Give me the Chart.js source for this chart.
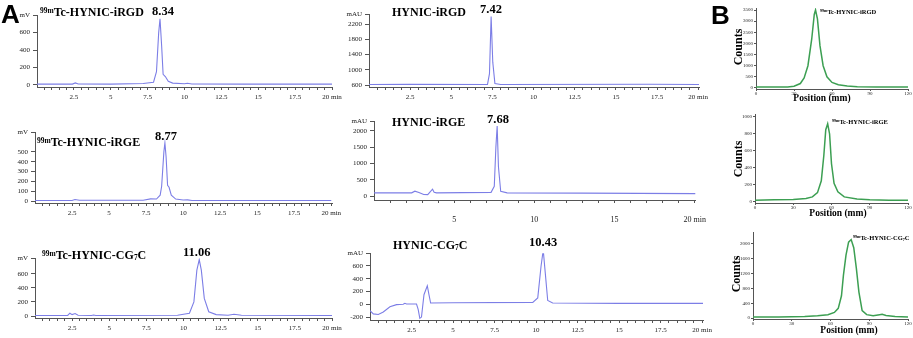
<!DOCTYPE html>
<html>
<head>
<meta charset="utf-8">
<script src="https://cdn.jsdelivr.net/npm/chart.js@4.4.1/dist/chart.umd.min.js"></script>
<style>
  body { margin: 0; background: #fff; }
  #fig { position: relative; width: 913px; height: 338px; overflow: hidden; font-family: 'Liberation Serif', 'Times New Roman', serif; }
  #fig canvas { position: absolute; }
  .lbl { position: absolute; white-space: nowrap; font-weight: bold; line-height: 1; color: #000; }
  .t { font-size: 12px; }
  .pk { font-size: 12.5px; }
  .sm { font-size: 6.5px; }
  .lbl sup { font-size: 0.62em; vertical-align: 0; position: relative; top: -0.45em; }
  .lbl sub { font-size: 0.62em; vertical-align: 0; position: relative; top: 0.15em; }
  .letter { position: absolute; font-family: 'Liberation Sans', Arial, sans-serif; font-weight: bold; font-size: 26px; line-height: 1; }
  .ytitle { position: absolute; width: 50px; text-align: center; font-weight: bold; font-size: 12px; line-height: 1; transform: rotate(-90deg); }
  .xtitle { position: absolute; width: 80px; text-align: center; font-weight: bold; font-size: 9.5px; line-height: 1; }
</style>
</head>
<body>
<div id="fig">
  <canvas id="hplc1"></canvas>
  <canvas id="hplc2"></canvas>
  <canvas id="hplc3"></canvas>
  <canvas id="hplc4"></canvas>
  <canvas id="hplc5"></canvas>
  <canvas id="hplc6"></canvas>
  <canvas id="tlc1"></canvas>
  <canvas id="tlc2"></canvas>
  <canvas id="tlc3"></canvas>

  <div class="letter" style="left:1px;top:1px;">A</div>
  <div class="letter" style="left:711px;top:2px;">B</div>

  <!-- chromatogram titles and retention times -->
  <div class="lbl t" style="left:40px;top:6px;"><sup>99m</sup>Tc-HYNIC-iRGD</div>
  <div class="lbl pk" style="left:152px;top:5px;">8.34</div>
  <div class="lbl t" style="left:392px;top:6px;">HYNIC-iRGD</div>
  <div class="lbl pk" style="left:480px;top:3px;">7.42</div>

  <div class="lbl t" style="left:37px;top:136px;"><sup>99m</sup>Tc-HYNIC-iRGE</div>
  <div class="lbl pk" style="left:155px;top:130px;">8.77</div>
  <div class="lbl t" style="left:392px;top:116px;">HYNIC-iRGE</div>
  <div class="lbl pk" style="left:487px;top:113px;">7.68</div>

  <div class="lbl t" style="left:42px;top:249px;"><sup>99m</sup>Tc-HYNIC-CG<sub>7</sub>C</div>
  <div class="lbl pk" style="left:183px;top:246px;">11.06</div>
  <div class="lbl t" style="left:393px;top:239px;">HYNIC-CG<sub>7</sub>C</div>
  <div class="lbl pk" style="left:529px;top:236px;">10.43</div>

  <!-- radio-TLC labels -->
  <div class="lbl sm" style="left:820px;top:9px;"><sup>99m</sup>Tc-HYNIC-iRGD</div>
  <div class="lbl sm" style="left:832px;top:119px;"><sup>99m</sup>Tc-HYNIC-iRGE</div>
  <div class="lbl sm" style="left:853px;top:235px;"><sup>99m</sup>Tc-HYNIC-CG<sub>7</sub>C</div>

  <div class="ytitle" style="left:713px;top:41px;">Counts</div>
  <div class="ytitle" style="left:713px;top:153px;">Counts</div>
  <div class="ytitle" style="left:711px;top:268px;">Counts</div>
  <div class="xtitle" style="left:782px;top:94px;">Position (mm)</div>
  <div class="xtitle" style="left:798px;top:209px;">Position (mm)</div>
  <div class="xtitle" style="left:809px;top:326px;">Position (mm)</div>
</div>

<script>
// ---- HPLC traces (retention time in min) ----
const tcRgdTime   = [0, 2.4, 2.6, 2.8, 5, 7.2, 7.9, 8.1, 8.25, 8.34, 8.45, 8.55, 8.7, 8.9, 9.2, 10, 10.2, 10.5, 14, 20];
const tcRgdSignal = [8, 8, 22, 10, 8, 15, 30, 150, 600, 760, 450, 120, 95, 40, 20, 12, 18, 10, 8, 8];

const rgdTime   = [0, 2.5, 7.2, 7.32, 7.42, 7.52, 7.65, 8, 17, 20.05];
const rgdSignal = [612, 618, 615, 900, 2400, 1200, 640, 615, 620, 612];

const tcRgeTime   = [0, 2.5, 2.7, 3.0, 7.3, 7.8, 8.2, 8.45, 8.55, 8.7, 8.77, 8.85, 8.95, 9.05, 9.2, 9.5, 10, 10.3, 10.6, 20];
const tcRgeSignal = [5, 5, 15, 8, 8, 22, 20, 60, 150, 500, 590, 450, 160, 140, 60, 20, 10, 12, 6, 5];

const rgeTime   = [0, 2.35, 2.55, 2.8, 3.1, 3.35, 3.65, 3.75, 3.9, 5.5, 7.3, 7.5, 7.6, 7.68, 7.76, 7.9, 8.3, 13, 20.05];
const rgeSignal = [100, 100, 150, 110, 50, 45, 210, 120, 100, 105, 115, 300, 1500, 2150, 900, 150, 100, 90, 75];

const tcCgTime   = [0, 2.2, 2.35, 2.5, 2.7, 2.9, 3.8, 3.95, 4.1, 9.6, 10.0, 10.4, 10.7, 10.9, 11.06, 11.2, 11.4, 11.7, 12.2, 13.0, 13.4, 13.9, 20];
const tcCgSignal = [8, 8, 40, 20, 35, 10, 8, 14, 8, 10, 25, 40, 200, 650, 800, 650, 250, 60, 20, 12, 25, 12, 8];

const cgTime   = [0, 0.2, 0.5, 0.8, 1.2, 1.6, 2.0, 2.1, 2.2, 2.8, 2.9, 3.0, 3.1, 3.25, 3.45, 3.55, 3.65, 5, 9.8, 10.1, 10.3, 10.43, 10.55, 10.7, 11, 15, 20.05];
const cgSignal = [-100, -150, -160, -120, -40, -5, 0, 15, 5, 5, -80, -220, -200, 150, 290, 150, 20, 25, 30, 100, 600, 850, 500, 60, 20, 15, 15];

// ---- radio-TLC scans (position in mm) ----
const tlcRgdPos    = [0, 25, 30, 35, 38, 41, 44, 46, 47, 48.5, 50.5, 53, 56, 60, 65, 72, 80, 95, 120];
const tlcRgdCounts = [40, 45, 80, 200, 450, 1000, 2200, 3300, 3500, 3100, 1900, 1000, 500, 250, 150, 90, 60, 50, 45];

const tlcRgePos    = [0, 15, 30, 40, 45, 49, 52, 54, 55.5, 57, 58.5, 60, 62, 65, 70, 80, 90, 105, 120];
const tlcRgeCounts = [20, 25, 30, 40, 60, 110, 250, 550, 850, 920, 800, 450, 220, 120, 60, 35, 25, 20, 20];

const tlcCgPos    = [0, 20, 40, 50, 58, 63, 66, 68.5, 70, 72, 74, 76, 78, 80, 82, 84.5, 88, 93, 98, 100, 103, 110, 120];
const tlcCgCounts = [30, 30, 40, 60, 90, 150, 260, 600, 1150, 1700, 2050, 2120, 1900, 1350, 700, 200, 90, 60, 90, 100, 70, 40, 30];

// ---- tick labels ----
const timeLabelsQuarter = [2.5, 5, 7.5, 10, 12.5, 15, 17.5, 20];
const timeLabelsFive = [5, 10, 15, 20];
const tcRgdTicks = [0, 200, 400, 600];
const rgdTicks = [600, 1000, 1400, 1800, 2200];
const tcRgeTicks = [0, 100, 200, 300, 400, 500];
const rgeTicks = [0, 500, 1000, 1500, 2000];
const tcCgTicks = [0, 200, 400, 600];
const cgTicks = [-200, 0, 200, 400, 600];
const positionTicks = [0, 30, 60, 90, 120];
const tlcRgdTicks = [0, 500, 1000, 1500, 2000, 2500, 3000, 3500];
const tlcRgeTicks = [0, 200, 400, 600, 800, 1000];
const tlcCgTicks = [0, 400, 800, 1200, 1600, 2000];

const hplcColor = '#7c7ee6';
const tlcColor = '#3c9f52';
const axisColor = '#555';
const labelColor = '#222';

function minorTicks(step, end) {
    const out = [];
    for (let v = step; v <= end + 1e-9; v += step) out.push(Math.round(v * 100) / 100);
    return out;
}

function timeLabel(labels) {
    return function(value) {
        if (!labels.some(l => Math.abs(l - value) < 1e-6)) return '';
        return Math.abs(value - 20) < 1e-6 ? '20 min' : String(value);
    };
}

function makePanel(p) {
    const canvas = document.getElementById(p.id);
    const pad = p.pad;
    canvas.width = pad.left + p.box.r - p.box.l + pad.right;
    canvas.height = pad.top + p.box.b - p.box.t + pad.bottom;
    canvas.style.left = (p.box.l - pad.left) + 'px';
    canvas.style.top = (p.box.t - pad.top) + 'px';

    new Chart(canvas, {
        type: 'scatter',
        data: {
            datasets: [{
                data: p.x.map((v, i) => ({ x: v, y: p.y[i] })),
                showLine: true,
                borderColor: p.color,
                borderWidth: p.lineWidth,
                pointRadius: 0,
                tension: 0
            }]
        },
        options: {
            responsive: false,
            animation: false,
            events: [],
            layout: { padding: { top: pad.top, right: pad.right, left: 0, bottom: 0 } },
            plugins: { legend: { display: false }, tooltip: { enabled: false } },
            scales: {
                x: {
                    type: 'linear',
                    min: p.xMin,
                    max: p.xMax,
                    afterFit: s => { s.height = pad.bottom; },
                    afterBuildTicks: s => { s.ticks = p.xTicks.map(v => ({ value: v })); },
                    ticks: {
                        autoSkip: false, maxRotation: 0, minRotation: 0,
                        padding: p.xPad, color: labelColor,
                        font: { family: "'Liberation Serif', serif", size: p.xFont },
                        callback: p.xLabel
                    },
                    grid: { drawOnChartArea: false, tickLength: p.xTickLen, tickColor: axisColor },
                    border: { color: axisColor, width: 1 }
                },
                y: {
                    min: p.yMin,
                    max: p.yMax,
                    afterFit: s => { s.width = pad.left; },
                    afterBuildTicks: s => {
                        s.ticks = p.yTicks.map(v => ({ value: v }));
                        if (p.unit) s.ticks.push({ value: p.yMax });
                    },
                    ticks: {
                        autoSkip: false, padding: p.yPad, color: labelColor,
                        font: { family: "'Liberation Serif', serif", size: p.yFont },
                        callback: v => (p.unit && v === p.yMax) ? p.unit : String(v)
                    },
                    grid: { drawOnChartArea: false, tickLength: p.yTickLen, tickColor: axisColor },
                    border: { color: axisColor, width: 1 }
                }
            }
        }
    });
}

const hplcPad = { left: 32, top: 6, right: 14, bottom: 16 };
const hplcBase = {
    color: hplcColor, lineWidth: 1.1, xMin: 0,
    xPad: 3, xFont: 7, xTickLen: 3, yPad: 3, yFont: 7, yTickLen: 4
};

makePanel(Object.assign({}, hplcBase, {
    id: 'hplc1', box: { l: 37, t: 14, r: 332, b: 87 }, pad: hplcPad,
    x: tcRgdTime, y: tcRgdSignal, xMax: 20,
    xTicks: minorTicks(0.5, 20), xLabel: timeLabel(timeLabelsQuarter),
    yMin: -25, yMax: 800, yTicks: tcRgdTicks, unit: 'mV'
}));

makePanel(Object.assign({}, hplcBase, {
    id: 'hplc2', box: { l: 369, t: 13, r: 699, b: 87 }, pad: hplcPad,
    x: rgdTime, y: rgdSignal, xMax: 20.05,
    xTicks: minorTicks(0.5, 20), xLabel: timeLabel(timeLabelsQuarter),
    yMin: 548, yMax: 2458, yTicks: rgdTicks, unit: 'mAU'
}));

makePanel(Object.assign({}, hplcBase, {
    id: 'hplc3', box: { l: 35, t: 131, r: 332, b: 203 }, pad: hplcPad,
    x: tcRgeTime, y: tcRgeSignal, xMax: 20.05,
    xTicks: minorTicks(0.5, 20), xLabel: timeLabel(timeLabelsQuarter),
    yMin: -20, yMax: 700, yTicks: tcRgeTicks, unit: 'mV'
}));

makePanel(Object.assign({}, hplcBase, {
    id: 'hplc4', box: { l: 374, t: 120, r: 702, b: 200 }, pad: { left: 32, top: 6, right: 16, bottom: 30 },
    x: rgeTime, y: rgeSignal, xMax: 20.05,
    xTicks: minorTicks(1, 20), xLabel: timeLabel(timeLabelsFive), xPad: 12, xFont: 8,
    yMin: -120, yMax: 2300, yTicks: rgeTicks, unit: 'mAU'
}));

makePanel(Object.assign({}, hplcBase, {
    id: 'hplc5', box: { l: 35, t: 257, r: 332, b: 318 }, pad: hplcPad,
    x: tcCgTime, y: tcCgSignal, xMax: 20,
    xTicks: minorTicks(0.5, 20), xLabel: timeLabel(timeLabelsQuarter),
    yMin: -28, yMax: 820, yTicks: tcCgTicks, unit: 'mV'
}));

makePanel(Object.assign({}, hplcBase, {
    id: 'hplc6', box: { l: 370, t: 252, r: 703, b: 320 }, pad: hplcPad,
    x: cgTime, y: cgSignal, xMax: 20.05,
    xTicks: minorTicks(0.5, 20), xLabel: timeLabel(timeLabelsQuarter),
    yMin: -246, yMax: 800, yTicks: cgTicks, unit: 'mAU'
}));

const tlcPad = { left: 16, top: 5, right: 6, bottom: 9 };
const tlcBase = {
    color: tlcColor, lineWidth: 1.5, xMin: 0, xMax: 120,
    xTicks: positionTicks, xLabel: v => String(v),
    xPad: 0, xFont: 5, xTickLen: 2, yPad: 1, yFont: 5, yTickLen: 2, unit: null
};

makePanel(Object.assign({}, tlcBase, {
    id: 'tlc1', box: { l: 756, t: 8, r: 908, b: 89 }, pad: tlcPad,
    x: tlcRgdPos, y: tlcRgdCounts, yMin: -45, yMax: 3590, yTicks: tlcRgdTicks
}));

makePanel(Object.assign({}, tlcBase, {
    id: 'tlc2', box: { l: 755, t: 114, r: 908, b: 203 }, pad: tlcPad,
    x: tlcRgePos, y: tlcRgeCounts, yMin: -12, yMax: 1035, yTicks: tlcRgeTicks
}));

makePanel(Object.assign({}, tlcBase, {
    id: 'tlc3', box: { l: 753, t: 232, r: 908, b: 319 }, pad: tlcPad,
    x: tlcCgPos, y: tlcCgCounts, yMin: -27, yMax: 2324, yTicks: tlcCgTicks
}));
</script>
</body>
</html>
